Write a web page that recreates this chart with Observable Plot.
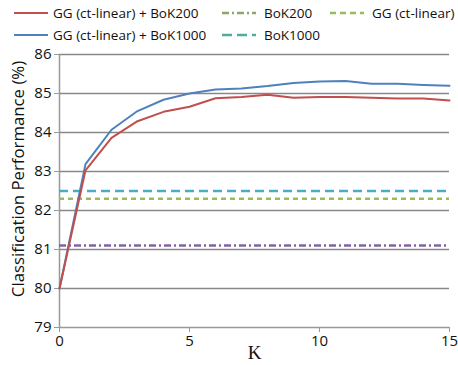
<!DOCTYPE html>
<html>
<head>
<meta charset="utf-8">
<script src="https://cdn.jsdelivr.net/npm/d3@7"></script>
<script src="https://cdn.jsdelivr.net/npm/@observablehq/plot@0.6"></script>
<style>
  body { margin: 0; background: #fff; font-family: "Open Sans", sans-serif; }
  #wrap { position: relative; width: 458px; height: 365px; overflow: hidden; }
  #legend { position: relative; width: 458px; height: 40px; font-size: 13.5px; color: #111; z-index: 1; }
  .item { position: absolute; display: flex; align-items: center; white-space: nowrap; }
  #chart { position: absolute; left: 0; top: 40px; }
</style>
</head>
<body>
<div id="wrap">
  <div id="legend"></div>
  <div id="chart"></div>
</div>
<script>
const kValues = [0, 1, 2, 3, 4, 5, 6, 7, 8, 9, 10, 11, 12, 13, 14, 15];
const ggBoK200 = [80, 83.03, 83.86, 84.29, 84.53, 84.66, 84.88, 84.91, 84.97, 84.89, 84.91, 84.91, 84.89, 84.87, 84.87, 84.82];
const ggBoK1000 = [80, 83.19, 84.07, 84.55, 84.84, 85.0, 85.1, 85.13, 85.19, 85.27, 85.31, 85.32, 85.25, 85.25, 85.22, 85.2];
const bok200 = 81.1;
const ggLinear = 82.3;
const bok1000 = 82.5;
const yTicks = [79, 80, 81, 82, 83, 84, 85, 86];
const xTicks = [0, 5, 10, 15];
const seriesNames = ["GG (ct-linear) + BoK200", "BoK200", "GG (ct-linear)", "GG (ct-linear) + BoK1000", "BoK1000"];
const yTitle = "Classification Performance (%)";
const xTitle = "K";

const redData = kValues.map((k, i) => ({k, v: ggBoK200[i]}));
const blueData = kValues.map((k, i) => ({k, v: ggBoK1000[i]}));

const chart = Plot.plot({
  width: 458,
  height: 325,
  marginLeft: 59,
  marginRight: 9,
  marginTop: 14,
  marginBottom: 38,
  style: { fontFamily: "Open Sans, sans-serif", color: "#111", background: "transparent", overflow: "visible" },
  x: { domain: [0, 15] },
  y: { domain: [79, 86] },
  marks: [
    Plot.ruleY(yTicks.slice(1), { stroke: "#888", strokeWidth: 1.5 }),
    Plot.ruleY([79], { stroke: "#999", strokeWidth: 1.5 }),
    Plot.ruleX([0], { stroke: "#999", strokeWidth: 1.5 }),
    Plot.axisY({ ticks: yTicks, tickFormat: "d", tickSize: 5, tickPadding: 3, stroke: "#999", fontSize: 15, label: null }),
    Plot.axisX({ ticks: xTicks, tickFormat: "d", tickSize: 5, tickPadding: 3, stroke: "#999", fontSize: 15, label: null }),
    Plot.text([yTitle], { frameAnchor: "left", textAnchor: "middle", rotate: -90, dx: -41, dy: -12, fontSize: 16.8, fill: "#111" }),
    Plot.text([xTitle], { frameAnchor: "bottom", dy: 31, fontSize: 19, fontFamily: "Liberation Serif, serif", fill: "#111" }),
    Plot.ruleY([bok1000], { stroke: "#4bacc6", strokeWidth: 2.5, strokeDasharray: "9,5" }),
    Plot.ruleY([ggLinear], { stroke: "#9bbb59", strokeWidth: 2.5, strokeDasharray: "5,4" }),
    Plot.ruleY([bok200], { stroke: "#8064a2", strokeWidth: 2.5, strokeDasharray: "7,3,2,3" }),
    Plot.line(blueData, { x: "k", y: "v", stroke: "#4f81bd", strokeWidth: 2 }),
    Plot.line(redData, { x: "k", y: "v", stroke: "#c0504d", strokeWidth: 2 })
  ]
});
document.getElementById("chart").appendChild(chart);

const legendItems = [
  { name: seriesNames[0], color: "#c0504d", dash: null, x: 14, y: 4 },
  { name: seriesNames[1], color: "#8aa86a", dash: "7,3,2,3", x: 222, y: 4 },
  { name: seriesNames[2], color: "#9bbb59", dash: "6,4", x: 330, y: 4 },
  { name: seriesNames[3], color: "#4f81bd", dash: null, x: 14, y: 26 },
  { name: seriesNames[4], color: "#4fad9e", dash: "10,5", x: 222, y: 26 }
];
const legend = document.getElementById("legend");
for (const it of legendItems) {
  const div = document.createElement("div");
  div.className = "item";
  div.style.left = it.x + "px";
  div.style.top = it.y + "px";
  div.style.height = "18px";
  const w = 34;
  div.innerHTML = `<svg width="${w}" height="6"><line x1="0" x2="${w}" y1="3" y2="3" stroke="${it.color}" stroke-width="${it.dash ? 2.5 : 2}" ${it.dash ? `stroke-dasharray="${it.dash}"` : ""}/></svg>`;
  const span = document.createElement("span");
  span.textContent = it.name;
  span.style.marginLeft = it.dash ? "8px" : "5px";
  div.appendChild(span);
  legend.appendChild(div);
}
</script>
</body>
</html>
